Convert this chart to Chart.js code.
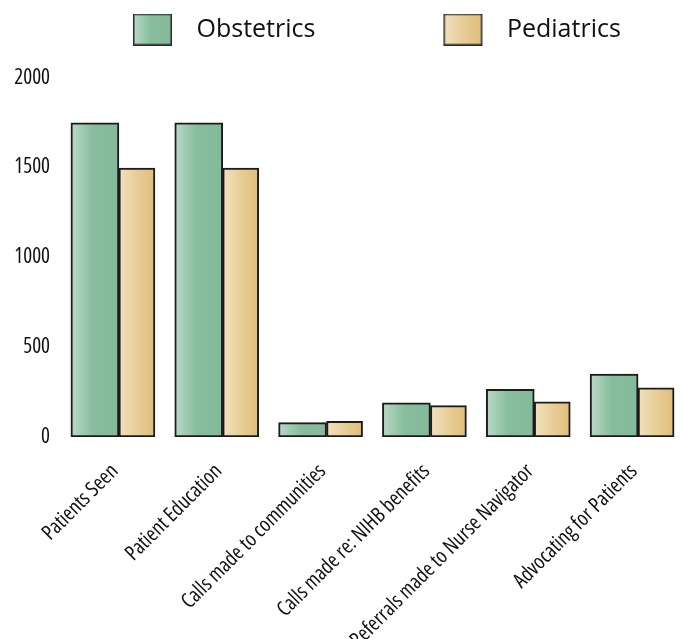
<!DOCTYPE html>
<html>
<head>
<meta charset="utf-8">
<title>Obstetrics and Pediatrics activity</title>
<script src="https://cdn.jsdelivr.net/npm/chart.js@4.4.1/dist/chart.umd.min.js"></script>
<style>
  html, body { margin: 0; padding: 0; background: #ffffff; overflow: hidden; }
  /* the plot runs a few pixels past the right edge of the frame */
  #frame { position: relative; width: 683px; height: 639px; overflow: hidden; }
  #wrap { position: relative; width: 690px; height: 639px; }
</style>
</head>
<body>
<div id="frame"><div id="wrap"><canvas id="chart"></canvas></div></div>
<script>
// Activity counts per category
const categories = [
  'Patients Seen',
  'Patient Education',
  'Calls made to communities',
  'Calls made re: NIHB benefits',
  'Referrals made to Nurse Navigator',
  'Advocating for Patients'
];
const obstetrics = [1748, 1748, 80, 190, 265, 350];
const pediatrics = [1496, 1496, 87, 175, 195, 273];
const yTicks = [0, 500, 1000, 1500, 2000];

// Horizontal colour fades used for the bars and the legend swatches
const fades = {
  Obstetrics: [[0, '#bad9ca'], [0.45, '#88bd9d'], [1, '#84b999']],
  Pediatrics: [[0, '#f2e1bf'], [0.5, '#e8cd97'], [1, '#e0be7c']]
};
const edge = '#1c1c1c';
// Axis text: Open Sans drawn with its condensed width
// (Chart.js puts the "weight" token straight into the canvas font string).
const axisFont = size => ({ family: "'Open Sans', sans-serif", weight: 'condensed', size });

function fadeFill(ctx, left, width, stops) {
  const g = ctx.createLinearGradient(left, 0, left + width, 0);
  stops.forEach(([o, c]) => g.addColorStop(o, c));
  return g;
}

// Legend swatch: a shaded box with clear space on its left, which
// keeps the two legend entries far apart.
function swatch(stops) {
  const c = document.createElement('canvas');
  c.width = 166; c.height = 32;
  const x = c.getContext('2d');
  const bx = 115, bw = 39;
  x.fillStyle = fadeFill(x, bx, bw, stops);
  x.fillRect(bx, 0, bw, 32);
  x.strokeStyle = '#2a2a2a';
  x.lineWidth = 1.5;
  x.strokeRect(bx + 0.75, 0.75, bw - 1.5, 30.5);
  return c;
}
const swatches = {
  Obstetrics: swatch(fades.Obstetrics),
  Pediatrics: swatch(fades.Pediatrics)
};

// Gives every bar its own left-to-right fade
const barShade = {
  id: 'barShade',
  beforeDatasetsDraw(chart) {
    chart.data.datasets.forEach((ds, di) => {
      const meta = chart.getDatasetMeta(di);
      meta.data.forEach(bar => {
        const {x, width} = bar.getProps(['x', 'width'], true);
        bar.options = Object.assign({}, bar.options, {
          backgroundColor: fadeFill(chart.ctx, x - width / 2, width, fades[ds.label])
        });
      });
    });
  }
};

new Chart(document.getElementById('chart'), {
  type: 'bar',
  data: {
    labels: categories,
    datasets: [
      {
        label: 'Obstetrics',
        data: obstetrics,
        backgroundColor: '#88bd9d',
        borderColor: edge,
        borderWidth: 2,
        borderSkipped: false,
        barThickness: 48
      },
      {
        label: 'Pediatrics',
        data: pediatrics,
        backgroundColor: '#e6c88e',
        borderColor: edge,
        borderWidth: 2,
        borderSkipped: false,
        barThickness: 36
      }
    ]
  },
  options: {
    responsive: true,
    maintainAspectRatio: false,
    animation: false,
    layout: { padding: { top: 4, left: 5, right: 0, bottom: 0 } },
    plugins: {
      tooltip: { enabled: false },
      legend: {
        position: 'top',
        align: 'start',
        labels: {
          usePointStyle: true,
          pointStyleWidth: 166,
          boxHeight: 32,
          padding: 13,
          color: '#111111',
          font: { family: "'Open Sans', sans-serif", size: 25 },
          generateLabels(chart) {
            const items = Chart.defaults.plugins.legend.labels.generateLabels(chart);
            items.forEach(it => { it.pointStyle = swatches[it.text]; });
            return items;
          }
        }
      }
    },
    scales: {
      x: {
        grid: { display: false, drawTicks: false },
        border: { display: false },
        ticks: {
          autoSkip: false,
          maxRotation: 45,
          minRotation: 45,
          padding: 22,
          labelOffset: -4,
          color: '#111111',
          font: axisFont(21)
        },
        afterFit(scale) {
          scale.height = 202;
          // the slanted labels may run past the plot edges
          scale.paddingLeft = 0;
          scale.paddingRight = 0;
        }
      },
      y: {
        min: 0,
        max: 2142,
        grid: { display: false, drawTicks: false },
        border: { display: false },
        ticks: {
          padding: 17,
          color: '#111111',
          font: axisFont(21),
          callback: v => String(v)
        },
        afterBuildTicks(scale) { scale.ticks = yTicks.map(v => ({ value: v })); },
        afterFit(scale) { scale.width = 62; }
      }
    }
  },
  plugins: [barShade]
});
</script>
</body>
</html>
